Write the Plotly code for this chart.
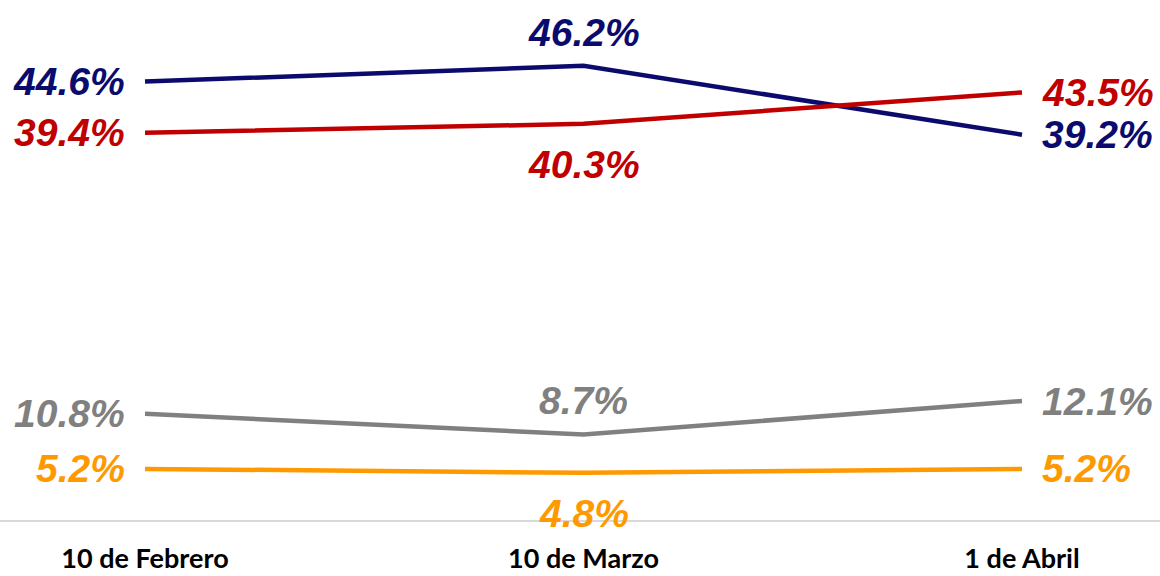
import plotly.graph_objects as go

categories = ["10 de Febrero", "10 de Marzo", "1 de Abril"]
series_names = ["Azul", "Rojo", "Gris", "Naranja"]
azul = [44.6, 46.2, 39.2]
rojo = [39.4, 40.3, 43.5]
gris = [10.8, 8.7, 12.1]
naranja = [5.2, 4.8, 5.2]

colors = ["#0b0b6e", "#c00000", "#808080", "#ff9900"]
all_values = [azul, rojo, gris, naranja]
# label placement for middle point: above or below
mid_pos = ["top", "bottom", "top", "bottom"]

x_idx = list(range(len(categories)))

fig = go.Figure()
for name, vals, col in zip(series_names, all_values, colors):
    fig.add_trace(go.Scatter(x=x_idx, y=vals, mode="lines", name=name,
                             line=dict(color=col, width=4.5), showlegend=False,
                             hoverinfo="skip"))

label_font = "Liberation Sans Narrow, Arial Narrow, sans-serif"
annotations = []
for vals, col, mp in zip(all_values, colors, mid_pos):
    for i, v in enumerate(vals):
        txt = f"<b><i>{v:.1f}%</i></b>"
        a = dict(x=x_idx[i], y=v, xref="x", yref="y", text=txt, showarrow=False,
                 font=dict(family=label_font, size=39, color=col))
        if i == 0:
            a.update(xanchor="right", yanchor="middle", xshift=-18)
        elif i == len(vals) - 1:
            a.update(xanchor="left", yanchor="middle", xshift=18)
        else:
            if mp == "top":
                a.update(xanchor="center", yanchor="bottom", yshift=10)
            else:
                a.update(xanchor="center", yanchor="top", yshift=-17)
        annotations.append(a)

fig.update_layout(
    width=1160, height=576,
    margin=dict(l=0, r=0, t=0, b=56),
    paper_bgcolor="white", plot_bgcolor="white",
    annotations=annotations,
    xaxis=dict(range=[-0.3307, 2.3147], tickvals=x_idx, ticktext=[f"<b>{c}</b>" for c in categories],
               showgrid=False, zeroline=False, showline=True, linecolor="#d9d9d9", linewidth=1.5,
               ticks="", tickfont=dict(family="Lato, sans-serif", size=27, color="black"),
               ticklabelstandoff=14),
    yaxis=dict(range=[0, 52.9], visible=False, showgrid=False, zeroline=False),
)

fig.write_html("out.html")
